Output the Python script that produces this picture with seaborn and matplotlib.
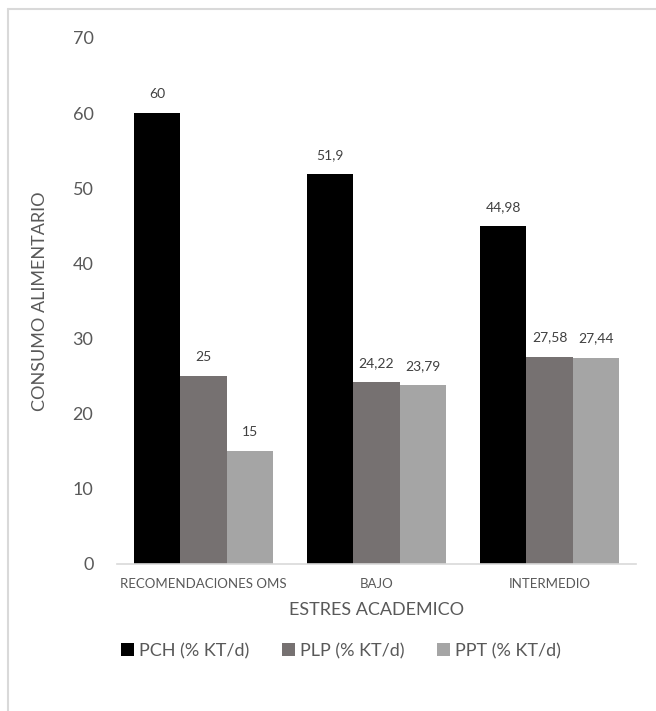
import matplotlib
matplotlib.use("Agg")
import matplotlib.pyplot as plt
import seaborn as sns
import pandas as pd
from matplotlib.lines import Line2D
from matplotlib.patches import Patch

categories = ["RECOMENDACIONES OMS", "BAJO", "INTERMEDIO"]
series_names = ["PCH (% KT/d)", "PLP (% KT/d)", "PPT (% KT/d)"]
pch = [60, 51.9, 44.98]
plp = [25, 24.22, 27.58]
ppt = [15, 23.79, 27.44]
colors = ["#000000", "#767171", "#A5A5A5"]

rows = []
for name, vals in zip(series_names, [pch, plp, ppt]):
    for cat, v in zip(categories, vals):
        rows.append({"cat": cat, "serie": name, "valor": v})
df = pd.DataFrame(rows)

sns.set_theme(style="white")
plt.rcParams["font.family"] = ["Lato", "DejaVu Sans"]

fig = plt.figure(figsize=(6.56, 7.11), dpi=100)
ax = fig.add_axes([117 / 656, 1 - 564 / 711, (636 - 117) / 656, (564 - 38) / 711])

sns.barplot(data=df, x="cat", y="valor", hue="serie", order=categories,
            hue_order=series_names, palette=colors, width=0.8, saturation=1,
            edgecolor="none", linewidth=0, legend=False, ax=ax)

ax.set_ylim(0, 70)
ax.set_xlim(-0.5, 2.5)
ax.set_yticks(range(0, 71, 10))
ax.tick_params(axis="y", labelsize=13, labelcolor="#595959", length=0, pad=17)
ax.tick_params(axis="x", labelsize=9.5, labelcolor="#595959", length=0, pad=10)
for s in ["top", "right", "left"]:
    ax.spines[s].set_visible(False)
ax.spines["bottom"].set_color("#D9D9D9")
ax.spines["bottom"].set_linewidth(1.2)

ax.set_xlabel("ESTRES ACADEMICO", fontsize=13, color="#595959", labelpad=9)
ax.set_ylabel("CONSUMO ALIMENTARIO", fontsize=13, color="#595959", labelpad=18)

def fmt(v):
    s = f"{v:g}"
    return s.replace(".", ",")

for cont in ax.containers:
    for bar in cont:
        h = bar.get_height()
        ax.annotate(fmt(h), (bar.get_x() + bar.get_width() / 2, h),
                    xytext=(0, 9.5), textcoords="offset points",
                    ha="center", va="bottom", fontsize=10, color="#404040")

handles = [Patch(facecolor=c, edgecolor="none") for c in colors]
fig.legend(handles, series_names, loc="center", bbox_to_anchor=(0.52, 1 - 651 / 711),
           ncol=3, frameon=False, fontsize=13, labelcolor="#595959",
           handlelength=0.7, handleheight=0.7, handletextpad=0.3, columnspacing=1.8)

# chart-area border
fig.add_artist(Line2D([8 / 656, 1], [1 - 9 / 711, 1 - 9 / 711], transform=fig.transFigure,
                      color="#D9D9D9", linewidth=1.5))
fig.add_artist(Line2D([8 / 656, 8 / 656], [0, 1 - 9 / 711], transform=fig.transFigure,
                      color="#D9D9D9", linewidth=1.5))

fig.savefig("out.png", dpi=100)
